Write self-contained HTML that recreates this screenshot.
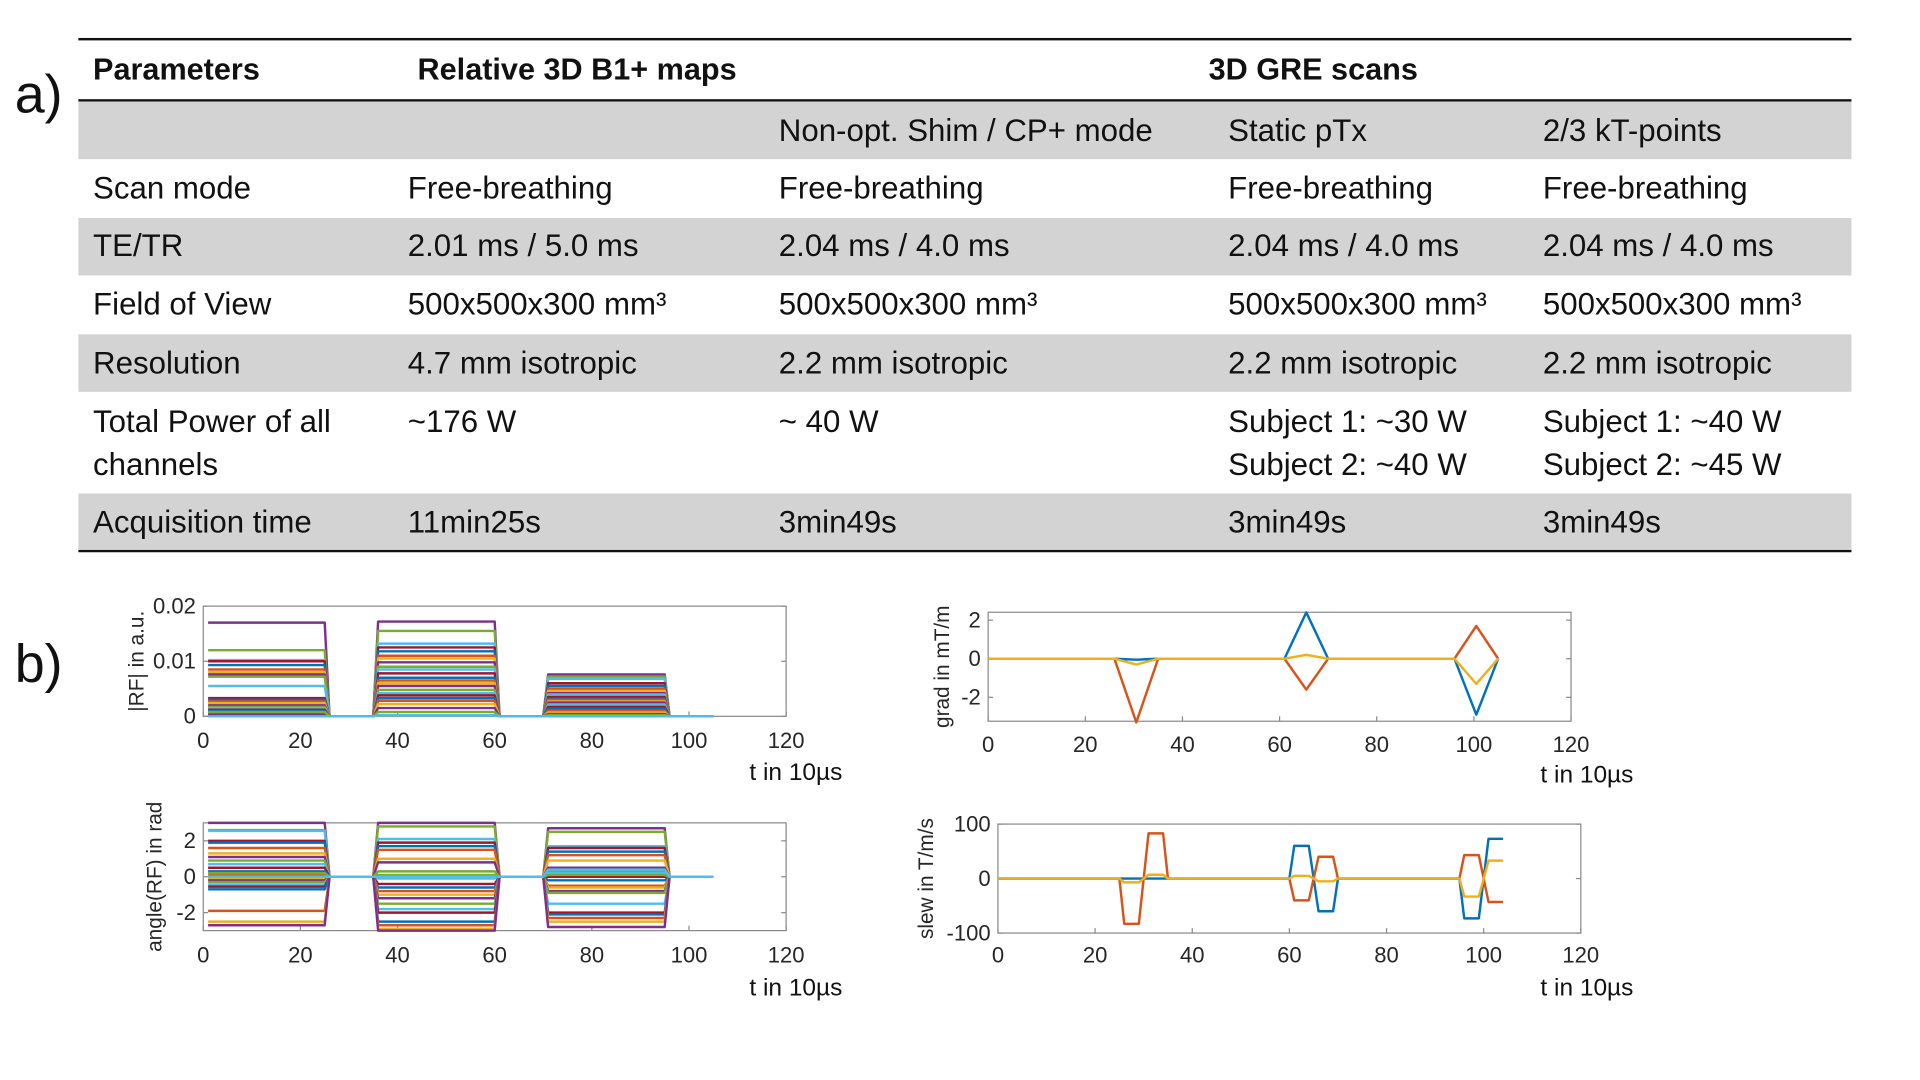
<!DOCTYPE html>
<html><head><meta charset="utf-8"><style>
html,body{margin:0;padding:0;background:#fff;overflow:hidden}
#wrap{position:absolute;left:0;top:0;width:1568px;height:882px;transform:scale(1.22449);transform-origin:0 0;font-family:"Liberation Sans",sans-serif;color:#111}
.t{position:absolute;font-size:25.5px;white-space:nowrap;line-height:1}
.b{font-weight:bold;font-size:25px}
.row{position:absolute;left:64px;width:1448px;background:#d3d3d3}
.hl{position:absolute;left:64px;width:1448px;height:2px;background:#111}
.lab{position:absolute;font-size:44px;line-height:1}
svg{position:absolute;left:0;top:0}
</style></head><body>
<div id="wrap">
<div class="lab" style="left:12px;top:56px">a)</div>
<div class="lab" style="left:12px;top:521px">b)</div>
<div>
<div class="hl" style="top:31px"></div>
<div class="hl" style="top:81px"></div>
<div class="hl" style="top:449px"></div>
<div class="row" style="top:83px;height:47px"></div>
<div class="row" style="top:178px;height:47px"></div>
<div class="row" style="top:273px;height:47px"></div>
<div class="row" style="top:403px;height:46px"></div>
<div class="t b" style="left:76px;top:45px">Parameters</div>
<div class="t b" style="left:341px;top:45px">Relative 3D B1+ maps</div>
<div class="t b" style="left:987px;top:45px">3D GRE scans</div>
<div class="t" style="left:636px;top:95px">Non-opt. Shim / CP+ mode</div>
<div class="t" style="left:1003px;top:95px">Static pTx</div>
<div class="t" style="left:1260px;top:95px">2/3 kT-points</div>
<div class="t" style="left:76px;top:142px">Scan mode</div>
<div class="t" style="left:333px;top:142px">Free-breathing</div>
<div class="t" style="left:636px;top:142px">Free-breathing</div>
<div class="t" style="left:1003px;top:142px">Free-breathing</div>
<div class="t" style="left:1260px;top:142px">Free-breathing</div>
<div class="t" style="left:76px;top:189px">TE/TR</div>
<div class="t" style="left:333px;top:189px">2.01 ms / 5.0 ms</div>
<div class="t" style="left:636px;top:189px">2.04 ms / 4.0 ms</div>
<div class="t" style="left:1003px;top:189px">2.04 ms / 4.0 ms</div>
<div class="t" style="left:1260px;top:189px">2.04 ms / 4.0 ms</div>
<div class="t" style="left:76px;top:237px">Field of View</div>
<div class="t" style="left:333px;top:237px">500x500x300 mm³</div>
<div class="t" style="left:636px;top:237px">500x500x300 mm³</div>
<div class="t" style="left:1003px;top:237px">500x500x300 mm³</div>
<div class="t" style="left:1260px;top:237px">500x500x300 mm³</div>
<div class="t" style="left:76px;top:285px">Resolution</div>
<div class="t" style="left:333px;top:285px">4.7 mm isotropic</div>
<div class="t" style="left:636px;top:285px">2.2 mm isotropic</div>
<div class="t" style="left:1003px;top:285px">2.2 mm isotropic</div>
<div class="t" style="left:1260px;top:285px">2.2 mm isotropic</div>
<div class="t" style="left:76px;top:333px">Total Power of all</div>
<div class="t" style="left:76px;top:368px">channels</div>
<div class="t" style="left:333px;top:333px">~176 W</div>
<div class="t" style="left:636px;top:333px">~ 40 W</div>
<div class="t" style="left:1003px;top:333px">Subject 1: ~30 W</div>
<div class="t" style="left:1003px;top:368px">Subject 2: ~40 W</div>
<div class="t" style="left:1260px;top:333px">Subject 1: ~40 W</div>
<div class="t" style="left:1260px;top:368px">Subject 2: ~45 W</div>
<div class="t" style="left:76px;top:415px">Acquisition time</div>
<div class="t" style="left:333px;top:415px">11min25s</div>
<div class="t" style="left:636px;top:415px">3min49s</div>
<div class="t" style="left:1003px;top:415px">3min49s</div>
<div class="t" style="left:1260px;top:415px">3min49s</div>
</div>
<svg id="charts" width="1568" height="882" viewBox="0 0 1568 882"></svg>
</div>
<script>
// ---- data ----
const xTicks = [0,20,40,60,80,100,120];
const rfAmp1 = [1.7,1.2,1.02,1.0,0.93,0.85,0.8,0.76,0.72,0.55,0.33,0.3,0.27,0.24,0.2,0.17,0.15,0.12,0.1,0.05,0.0,0.03,0.08,0.0];
const rfAmp2 = [1.72,1.55,1.32,1.25,1.18,1.1,1.05,0.98,0.9,0.85,0.78,0.7,0.65,0.6,0.55,0.48,0.42,0.38,0.33,0.28,0.22,0.15,0.08,0.02];
const rfAmp3 = [0.76,0.72,0.68,0.6,0.55,0.5,0.46,0.42,0.4,0.38,0.35,0.32,0.3,0.27,0.25,0.22,0.2,0.17,0.14,0.1,0.07,0.04,0.02,0.0];
const rfPh1 = [3.0,2.6,2.55,2.0,1.9,1.6,1.3,1.1,0.9,0.7,0.5,0.3,0.1,-0.1,-0.2,-0.3,-0.45,-0.55,-0.7,-1.9,-2.5,-2.7,0.2,0.0];
const rfPh2 = [3.0,2.8,2.1,1.9,1.7,1.5,1.0,0.8,0.1,-0.1,-0.4,-0.6,-0.8,-1.0,-1.2,-1.5,-1.8,-2.0,-2.5,-2.7,-2.9,-3.0,0.3,0.0];
const rfPh3 = [2.7,2.5,1.7,1.6,1.4,1.2,0.9,0.5,0.3,0.2,0.0,-0.2,-0.5,-0.6,-0.8,-0.9,-1.5,-2.0,-2.1,-2.3,-2.5,-2.8,0.1,0.4];
const gradT = [0,26,30.5,35,61,65.5,70,96,100.5,105];
const gradX = [0,0,-0.05,0,0,2.4,0,0,-2.9,0];
const gradY = [0,0,-3.3,0,0,-1.6,0,0,1.7,0];
const gradZ = [0,0,-0.3,0,0,0.2,0,0,-1.3,0];
const slewT = [0,25,26,29,30,31,34,35,60,61,64,65,66,69,70,95,96,99,100,101,104];
const slewX = [0,0,0,0,0,0,0,0,0,60,60,0,-60,-60,0,0,-73,-73,0,73,73];
const slewY = [0,0,-83,-83,0,83,83,0,0,-40,-40,0,40,40,0,0,43,43,0,-43,-43];
const slewZ = [0,0,-7,-7,0,7,7,0,0,5,5,0,-5,-5,0,0,-33,-33,0,33,33];
const colors = ['#0072BD','#D95319','#EDB120','#7E2F8E','#77AC30','#4DBEEE','#A2142F'];

const svg = document.getElementById('charts');
const NS = 'http://www.w3.org/2000/svg';
function mk(tag, attrs){const e=document.createElementNS(NS,tag);for(const k in attrs)e.setAttribute(k,attrs[k]);svg.appendChild(e);return e;}

function axes(name, x0,x1,y0,y1, ymin,ymax, yTicks, yTickLabels, ylabel, ylabelX, xtY, tLabX, tLabY){
  const sx = v => x0 + (v/120)*(x1-x0);
  const sy = v => y1 - (v-ymin)/(ymax-ymin)*(y1-y0);
  const box = mk('rect',{x:x0,y:y0,width:x1-x0,height:y1-y0,fill:'none',stroke:'#8a8a8a','stroke-width':1});
  
  
  xTicks.forEach(v=>{
    const l=mk('line',{x1:sx(v),x2:sx(v),y1:y1,y2:y1-4,stroke:'#8a8a8a'});
    
    
    const t=mk('text',{x:sx(v),y:xtY,'text-anchor':'middle','font-size':18,fill:'#262626','font-family':'Liberation Sans, sans-serif'});
    t.textContent=v;
    
    
  });
  yTicks.forEach((v,i)=>{
    const l=mk('line',{x1:x0,x2:x0+4,y1:sy(v),y2:sy(v),stroke:'#8a8a8a'});
    
    
    const l2=mk('line',{x1:x1,x2:x1-4,y1:sy(v),y2:sy(v),stroke:'#8a8a8a'});
    
    
    const t=mk('text',{x:x0-6,y:sy(v)+6,'text-anchor':'end','font-size':18,fill:'#262626','font-family':'Liberation Sans, sans-serif'});
    t.textContent=yTickLabels[i];
    
    
  });
  const yc=(y0+y1)/2;
  const yl=mk('text',{x:ylabelX,y:yc,'text-anchor':'middle','font-size':17,fill:'#262626','font-family':'Liberation Sans, sans-serif',transform:`rotate(-90 ${ylabelX} ${yc})`});
  yl.textContent=ylabel;
  
  
  const tl=mk('text',{x:tLabX,y:tLabY,'font-size':20,fill:'#111','font-family':'Liberation Sans, sans-serif'});
  tl.textContent='t in 10µs';
  
  
  return {sx,sy};
}
function line(ax, ts, vs, color, name){
  const d = ts.map((t,i)=>(i?'L':'M')+ax.sx(t).toFixed(2)+' '+ax.sy(vs[i]).toFixed(2)).join(' ');
  const p = mk('path',{d:d,fill:'none',stroke:color,'stroke-width':2,'stroke-linejoin':'round'});
  
  
}
function rfChannel(ax, a1,a2,a3, color, name){
  const ts=[1,25,26,35,36,60,61,70,71,95,96,105];
  const vs=[a1,a1,0,0,a2,a2,0,0,a3,a3,0,0];
  line(ax, ts, vs, color, name);
}

const axRF = axes('rf-magnitude',166,642,495,585,0,0.02,[0,0.01,0.02],['0','0.01','0.02'],'|RF| in a.u.',117,611,612,637);
for(let i=0;i<rfAmp1.length;i++) rfChannel(axRF, rfAmp1[i]/100, rfAmp2[i]/100, rfAmp3[i]/100, colors[(i+3)%7], 'rf-magnitude-channel-'+(i+1));

const axPh = axes('rf-phase',166,642,672,760,-3,3,[-2,0,2],['-2','0','2'],'angle(RF) in rad',132,786,612,813);
for(let i=0;i<rfPh1.length;i++) rfChannel(axPh, rfPh1[i], rfPh2[i], rfPh3[i], colors[(i+3)%7], 'rf-phase-channel-'+(i+1));

const axG = axes('gradient',807,1283,500,589,-3.24,2.41,[-2,0,2],['-2','0','2'],'grad in mT/m',775,614,1258,639);
line(axG, gradT, gradX, colors[0], 'grad-x-line');
line(axG, gradT, gradY, colors[1], 'grad-y-line');
line(axG, gradT, gradZ, colors[2], 'grad-z-line');

const axS = axes('slew-rate',815,1291,673,762,-100,100,[-100,0,100],['-100','0','100'],'slew in T/m/s',762,786,1258,813);
line(axS, slewT, slewX, colors[0], 'slew-x-line');
line(axS, slewT, slewY, colors[1], 'slew-y-line');
line(axS, slewT, slewZ, colors[2], 'slew-z-line');
</script>
</body></html>
